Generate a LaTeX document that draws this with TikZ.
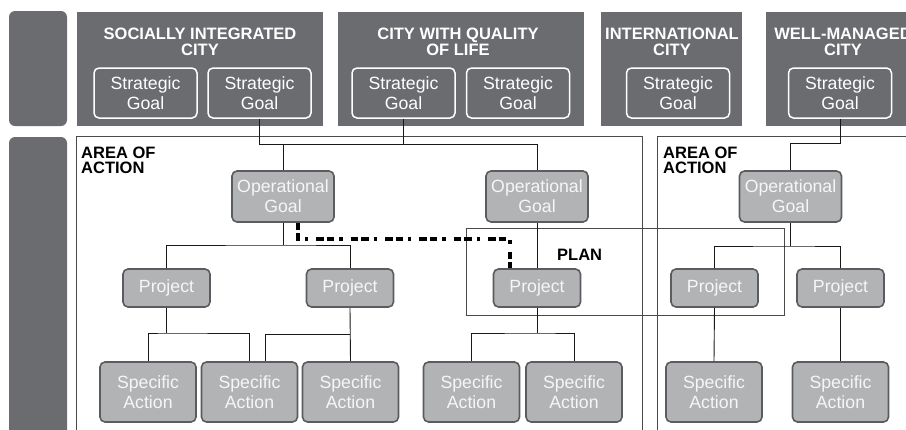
\documentclass[tikz,border=0pt]{standalone}
\usepackage{fontspec}
\setmainfont{Liberation Sans}
\definecolor{darkpanel}{HTML}{6B6C70}
\definecolor{grayfill}{HTML}{B2B3B5}
\definecolor{grayborder}{HTML}{5B5C5F}
\definecolor{boxtext}{HTML}{F6F6F6}
\definecolor{arealine}{HTML}{4A4A4A}
\begin{document}
\begin{tikzpicture}[x=1pt,y=-1pt,
  band/.style={fill=darkpanel, rounded corners=6pt, inner sep=0pt, minimum width=58pt},
  panel/.style={fill=darkpanel, inner sep=0pt, minimum height=114pt},
  title/.style={text=white, font=\fontsize{16.5}{16}\selectfont\bfseries, align=center, inner sep=0pt, anchor=north},
  areatitle/.style={text=black, font=\fontsize{16.5}{15}\selectfont\bfseries, align=left, inner sep=0pt, anchor=north west},
  sgbox/.style={draw=white, line width=1.5pt, rounded corners=5pt, minimum width=103pt, minimum height=50pt,
    text=white, font=\fontsize{17.7}{20}\selectfont, align=center, inner sep=0pt},
  graybox/.style={draw=grayborder, fill=grayfill, line width=1.6pt, rounded corners=5pt,
    text=boxtext, font=\fontsize{17.7}{20}\selectfont, align=center, inner sep=0pt},
  opbox/.style={graybox, minimum width=102pt, minimum height=51pt},
  projbox/.style={graybox, minimum width=87pt, minimum height=38pt},
  actbox/.style={graybox, minimum width=96pt, minimum height=60pt},
  conn/.style={draw=black!90, line width=0.9pt},
  areabox/.style={draw=arealine, line width=0.9pt},
  plandots/.style={draw=black, line width=4pt, dash pattern=on 7.5pt off 3pt on 7.5pt off 5pt on 3.3pt off 8.1pt}
]
\useasboundingbox (0,0) rectangle (906,429);
\clip (0,0) rectangle (906,429);

% left bands
\node[band, minimum height=115pt] (band1) at (38,68.5) {};
\node[band, minimum height=313pt] (band2) at (38,293.5) {};

% top panels
\node[panel, minimum width=246pt] (pan1) at (200,69) {};
\node[panel, minimum width=246pt] (pan2) at (461,69) {};
\node[panel, minimum width=141pt] (pan3) at (671.5,69) {};
\node[panel, minimum width=164pt] (pan4) at (848,69) {};

\node[title] (t1) at (200,28) {SOCIALLY INTEGRATED\\CITY};
\node[title] (t2) at (458,28) {CITY WITH QUALITY\\OF LIFE};
\node[title] (t3) at (672,28) {INTERNATIONAL\\CITY};
\node[title] (t4) at (843,28) {WELL-MANAGED\\CITY};

% strategic goals
\node[sgbox] (sg11) at (145.5,93) {Strategic\\Goal};
\node[sgbox] (sg12) at (259.5,93) {Strategic\\Goal};
\node[sgbox] (sg21) at (403.5,93) {Strategic\\Goal};
\node[sgbox] (sg22) at (518,93) {Strategic\\Goal};
\node[sgbox] (sg3) at (678,93) {Strategic\\Goal};
\node[sgbox] (sg4) at (840,93) {Strategic\\Goal};

% areas of action and plan
\draw[areabox] (76,460) |- (642,136) -- (642,460);
\draw[areabox] (657,460) |- (930,136);
\draw[areabox] (466,228) rectangle (784,315);

\node[areatitle] (a1) at (81,147) {AREA OF\\ACTION};
\node[areatitle] (a2) at (663,147) {AREA OF\\ACTION};
\node[font=\fontsize{16.5}{16}\selectfont\bfseries, inner sep=0pt, anchor=base west] (plan) at (557,260) {PLAN};

% nodes
\node[opbox] (op1) at (283,196.5) {Operational\\Goal};
\node[opbox] (op2) at (537,196.5) {Operational\\Goal};
\node[opbox] (op3) at (790.5,196.5) {Operational\\Goal};

\node[projbox] (p1) at (166.5,288) {Project};
\node[projbox] (p2) at (350,288) {Project};
\node[projbox] (p3) at (537,288) {Project};
\node[projbox] (p4) at (714.5,288) {Project};
\node[projbox] (p5) at (840.5,288) {Project};

\node[actbox] (sa1) at (148,392) {Specific\\Action};
\node[actbox] (sa2) at (249.5,392) {Specific\\Action};
\node[actbox] (sa3) at (350.5,392) {Specific\\Action};
\node[actbox] (sa4) at (471.5,392) {Specific\\Action};
\node[actbox] (sa5) at (574,392) {Specific\\Action};
\node[actbox] (sa6) at (714,392) {Specific\\Action};
\node[actbox] (sa7) at (840.5,392) {Specific\\Action};

% connector junctions
\coordinate (busL) at (259.5,144);
\coordinate (busR) at (537,144);
\coordinate (wm1) at (840,143);
\coordinate (wm2) at (790.5,143);
\coordinate (j1) at (283,245);
\coordinate (j3) at (790.5,246);
\coordinate (k1) at (166.5,333);
\coordinate (k2) at (350,334);
\coordinate (k2l) at (265,334);
\coordinate (k3) at (537,333);

\draw[conn] (sg12.south) -- (busL) -- (busR) -- (op2.north);
\draw[conn] (sg21.south) -- (sg21.south |- busL);
\draw[conn] (op1.north) -- (op1.north |- busL);
\draw[conn] (sg4.south) -- (wm1) -- (wm2) -- (op3.north);

\draw[conn] (op1.south) -- (j1);
\draw[conn] (p1.north) |- (j1) -| (p2.north);
\draw[conn] (op2.south) -- (p3.north);
\draw[conn] (op3.south) -- (j3);
\draw[conn] (p4.north) |- (j3) -| (p5.north);

\draw[conn] (p1.south) -- (k1);
\draw[conn] (sa1.north) |- (k1) -| (sa2.north);
\draw[conn] (p2.south) -- (sa3.north);
\draw[conn] (k2) -- (k2l) -- (k2l |- sa2.north);
\draw[conn] (p3.south) -- (k3);
\draw[conn] (sa4.north) |- (k3) -| (sa5.north);
\draw[conn] (p4.south) -- (sa6.north);
\draw[conn] (p5.south) -- (sa7.north);

% dotted plan link
\coordinate (d1) at (298,239);
\coordinate (d2) at (510,239);
\draw[plandots] (op1.south -| d1) -- (d1) -- (d2) -- (d2 |- p3.north);
\end{tikzpicture}
\end{document}
